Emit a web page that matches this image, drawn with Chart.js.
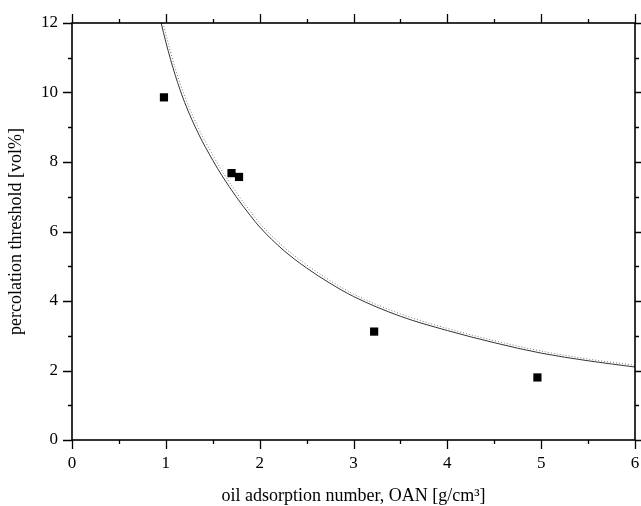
<!DOCTYPE html>
<html>
<head>
<meta charset="utf-8">
<script src="https://cdn.jsdelivr.net/npm/chart.js@4"></script>
<style>
html,body{margin:0;padding:0;background:#fff;}
canvas{display:block;}
</style>
</head>
<body>
<canvas id="c" width="641" height="506"></canvas>
<script>
// ===== measured points =====
const oan = [0.98, 1.70, 1.78, 3.22, 4.96];
const threshold = [9.86, 7.68, 7.57, 3.12, 1.80];

// ===== fitted curves =====
const solidX = [0.95, 1.0, 1.1, 1.2, 1.35, 1.5, 1.6, 1.75, 1.9, 2.0, 2.25, 2.5, 2.75, 3.0, 3.5, 4.0, 4.5, 5.0, 5.5, 6.0];
const solidY = [12.0, 11.45, 10.5, 9.72, 8.8, 8.05, 7.6, 7.0, 6.46, 6.13, 5.47, 4.95, 4.51, 4.13, 3.56, 3.15, 2.8, 2.5, 2.28, 2.1];
const dotX = [0.97, 1.0, 1.1, 1.2, 1.35, 1.5, 1.6, 1.75, 1.9, 2.0, 2.25, 2.5, 2.75, 3.0, 3.5, 4.0, 4.5, 5.0, 5.5, 6.0];
const dotY = [12.0, 11.68, 10.7, 9.9, 8.96, 8.2, 7.74, 7.13, 6.58, 6.24, 5.57, 5.04, 4.59, 4.2, 3.63, 3.21, 2.86, 2.56, 2.33, 2.15];

const xTitle = 'oil adsorption number, OAN [g/cm\u00B3]';
const yTitle = 'percolation threshold [vol%]';

const pts = (xs, ys) => xs.map((x, i) => ({x: x, y: ys[i]}));

// frame + outward ticks like the original plot
const frameTicks = {
  id: 'frameTicks',
  afterDraw(chart){
    const ctx = chart.ctx;
    const a = chart.chartArea;
    const xs = chart.scales.x, ys = chart.scales.y;
    ctx.save();
    ctx.strokeStyle = '#000';
    ctx.lineWidth = 1.6;
    ctx.strokeRect(a.left, a.top, a.right - a.left, a.bottom - a.top);
    ctx.beginPath();
    for(let v = 0; v <= 6.001; v += 0.5){
      const px = Math.round(xs.getPixelForValue(v)) + 0.5;
      const len = (Math.abs(v - Math.round(v)) < 0.01) ? 9 : 4;
      ctx.moveTo(px, a.bottom); ctx.lineTo(px, a.bottom + len);
      ctx.moveTo(px, a.top); ctx.lineTo(px, a.top - len);
    }
    for(let v = 0; v <= 12.001; v += 1){
      const py = Math.round(ys.getPixelForValue(v)) + 0.5;
      const len = (v % 2 === 0) ? 9 : 4;
      ctx.moveTo(a.left, py); ctx.lineTo(a.left - len, py);
      ctx.moveTo(a.right, py); ctx.lineTo(a.right + len, py);
    }
    ctx.lineWidth = 1.3;
    ctx.stroke();
    ctx.restore();
  }
};

const font = {family: '"Liberation Serif", "DejaVu Serif", serif', size: 17};

new Chart(document.getElementById('c'), {
  type: 'scatter',
  data: {
    datasets: [
      {
        label: 'dotted',
        data: pts(dotX, dotY),
        showLine: true,
        borderColor: '#777',
        borderWidth: 1,
        borderDash: [1, 2],
        pointRadius: 0,
        cubicInterpolationMode: 'monotone',
        order: 3
      },
      {
        label: 'solid',
        data: pts(solidX, solidY),
        showLine: true,
        borderColor: '#333',
        borderWidth: 1,
        pointRadius: 0,
        cubicInterpolationMode: 'monotone',
        order: 2
      },
      {
        label: 'data',
        data: pts(oan, threshold),
        pointStyle: 'rect',
        pointRadius: 5.8,
        backgroundColor: '#000',
        borderColor: '#000',
        borderWidth: 0,
        order: 1
      }
    ]
  },
  options: {
    responsive: false,
    animation: false,
    layout: {padding: {top: 23, right: 6, left: 0, bottom: 0}},
    plugins: {legend: {display: false}, tooltip: {enabled: false}},
    scales: {
      x: {
        type: 'linear', min: 0, max: 6,
        border: {display: false},
        // tick marks are drawn by the plugin; tickLength only spaces the labels
        grid: {display: false, drawTicks: true, tickLength: 13},
        ticks: {stepSize: 1, color: '#000', font: font, padding: 0, maxRotation: 0},
        title: {display: true, text: xTitle, color: '#000',
          font: {family: font.family, size: 18}, padding: {top: 14, bottom: -1}},
        afterFit(s){ s.height = 66; }
      },
      y: {
        type: 'linear', min: 0, max: 12,
        border: {display: false},
        grid: {display: false, drawTicks: true, tickLength: 14},
        ticks: {stepSize: 2, color: '#000', font: font, padding: 0},
        title: {display: true, text: yTitle, color: '#000',
          font: {family: font.family, size: 18}, padding: {top: 5, bottom: 0}},
        afterFit(s){ s.width = 72; }
      }
    }
  },
  plugins: [frameTicks]
});
</script>
</body>
</html>
